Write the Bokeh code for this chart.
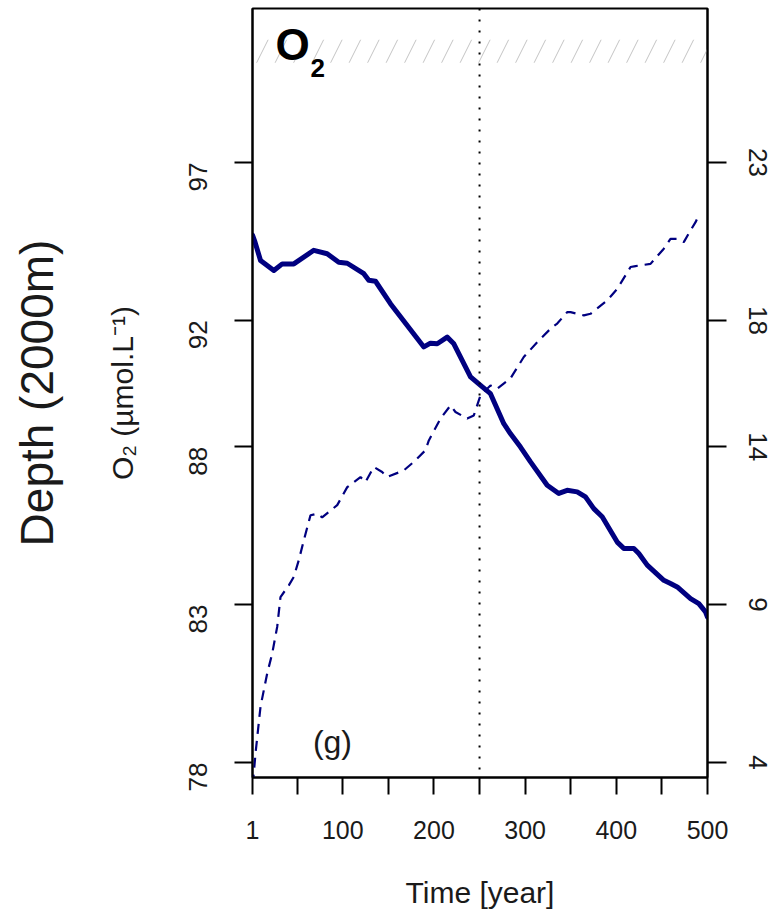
import math
from bokeh.plotting import figure
from bokeh.models import (Range1d, LinearAxis, FixedTicker, Span)
from bokeh.core.properties import value
from bokeh.embed import file_html
from bokeh.resources import INLINE

# ---- data ----
time_solid = [1, 3.2, 9.8, 24.4, 33.6, 46.3, 68.2, 82.9, 95.6, 104.9, 123.1, 128.5, 135.9,
              152.3, 188.9, 196.2, 203.6, 214.5, 221.8, 240.1, 251.1, 262.0, 276.6, 284.0,
              294.9, 305.9, 324.2, 336.9, 346.1, 357.1, 366.2, 375.3, 384.5, 401.0, 408.2,
              419.2, 424.7, 433.9, 452.1, 459.4, 466.8, 481.4, 490.5, 497.8, 500]
o2_solid = [94.70, 94.53, 93.90, 93.58, 93.79, 93.79, 94.22, 94.11, 93.84, 93.81, 93.48, 93.27, 93.24,
            92.53, 91.16, 91.28, 91.26, 91.47, 91.26, 90.21, 89.94, 89.68, 88.73, 88.41,
            87.99, 87.52, 86.78, 86.52, 86.62, 86.57, 86.41, 86.04, 85.78, 84.98, 84.78,
            84.78, 84.62, 84.25, 83.77, 83.67, 83.56, 83.19, 83.03, 82.77, 82.60]

time_dashed = [1, 2.4, 4.3, 9.8, 17.1, 22.6, 28.1, 31.7, 40.8, 46.3, 51.8, 57.3, 64.6, 72.0, 77.4,
               93.9, 104.9, 119.4, 124.9, 134.0, 143.2, 148.7, 166.9, 177.9, 190.7, 194.4,
               207.2, 218.2, 223.6, 236.5, 243.7, 249.2, 251.1, 262.0, 269.4, 283.9, 298.5,
               313.2, 329.7, 335.2, 346.1, 349.8, 364.4, 371.7, 390.0, 401.0, 415.6, 421.1,
               437.5, 452.1, 459.4, 466.8, 474.0, 481.4, 486.9, 490.0]
o2_dashed = [3.30, 3.65, 4.29, 5.77, 6.82, 7.45, 8.30, 9.24, 9.61, 9.88, 10.41, 11.04, 11.83, 11.88, 11.76,
             12.15, 12.72, 13.04, 12.88, 13.36, 13.20, 13.04, 13.25, 13.52, 13.89, 14.20,
             14.89, 15.31, 15.10, 14.89, 14.99, 15.47, 15.63, 15.94, 15.84, 16.16, 16.84,
             17.31, 17.79, 17.90, 18.26, 18.26, 18.16, 18.21, 18.63, 19.00, 19.69, 19.72,
             19.79, 20.27, 20.58, 20.58, 20.48, 20.85, 21.11, 21.30]

x_ticks = [1, 50, 100, 150, 200, 250, 300, 350, 400, 450, 500]
x_tick_labels = {1: "1", 50: "", 100: "100", 150: "", 200: "200", 250: "", 300: "300",
                 350: "", 400: "400", 450: "", 500: "500"}
left_ticks = [78, 83, 88, 92, 97]
right_ticks = [4, 9, 14, 18, 23]
left_range = (77.525, 101.877)
right_range = (3.525, 27.877)
x_range = (1, 500)
marker_year = 250
band = (100.16, 100.89)

FONT = "Liberation Sans"
NAVY = "#000080"
TXT = "#1a1a1a"

p = figure(width=780, height=920,
           output_backend="svg", toolbar_location=None,
           x_range=Range1d(*x_range), y_range=Range1d(*left_range),
           min_border_left=252, min_border_right=73, min_border_top=8, min_border_bottom=143)
p.extra_y_ranges = {"right": Range1d(*right_range)}
p.background_fill_color = "white"
p.border_fill_color = "white"
p.outline_line_color = "black"
p.outline_line_width = 2
p.xgrid.visible = False
p.ygrid.visible = False

def style_axis(ax, tick_out, standoff):
    ax.axis_line_color = "black"
    ax.axis_line_width = 2
    ax.major_tick_line_color = "black"
    ax.major_tick_line_width = 2
    ax.major_tick_in = 0
    ax.major_tick_out = tick_out
    ax.minor_tick_line_color = None
    ax.major_label_text_font = FONT
    ax.major_label_text_font_size = "26px"
    ax.major_label_text_color = TXT
    ax.major_label_standoff = standoff
    ax.axis_label_text_font = FONT
    ax.axis_label_text_font_style = "normal"
    ax.axis_label_text_color = TXT

# bottom axis
xa = p.xaxis[0]
xa.ticker = FixedTicker(ticks=x_ticks)
xa.major_label_overrides = x_tick_labels
style_axis(xa, 17, 26)
xa.major_label_text_font_size = "25px"
xa.axis_label = "Time [year]"
xa.axis_label_text_font_size = "30px"
xa.axis_label_standoff = 34

# left axis
ya = p.yaxis[0]
ya.ticker = FixedTicker(ticks=left_ticks)
style_axis(ya, 18, 36)
ya.major_label_orientation = math.pi / 2
ya.axis_label = "O\u2082 (\u00b5mol.L\u207b\u00b9)"
ya.axis_label_text_font_size = "30px"
ya.axis_label_standoff = 39

# outer left label: a bare axis carrying only its title
depth_axis = LinearAxis(ticker=FixedTicker(ticks=[]), axis_label="Depth (2000m)")
depth_axis.axis_line_color = None
depth_axis.major_tick_line_color = None
depth_axis.minor_tick_line_color = None
depth_axis.major_tick_out = 0
depth_axis.major_label_standoff = 0
depth_axis.axis_label_standoff = 40
depth_axis.axis_label_text_font = FONT
depth_axis.axis_label_text_font_size = "46px"
depth_axis.axis_label_text_font_style = "normal"
depth_axis.axis_label_text_color = TXT
p.add_layout(depth_axis, "left")

# right axis
ra = LinearAxis(y_range_name="right", ticker=FixedTicker(ticks=right_ticks))
style_axis(ra, 19, 22)
ra.major_label_orientation = "vertical"
p.add_layout(ra, "right")

# hatched band
p.quad(left=[x_range[0]], right=[x_range[1]], bottom=[band[0]], top=[band[1]],
       fill_color=None, line_color=None, hatch_pattern="/", hatch_color="#c4c4c4",
       hatch_weight=1, hatch_scale=37)

# dotted vertical marker
p.add_layout(Span(location=marker_year, dimension="height", line_color="black",
                  line_width=2, line_dash="2 9"))

# series
p.line(time_solid, o2_solid, line_color=NAVY, line_width=5, line_join="round", line_cap="round")
p.line(time_dashed, o2_dashed, y_range_name="right", line_color=NAVY, line_width=2.2,
       line_dash="10 7")

# labels
p.text(x=[26.2], y=[100.73], text=["O"], text_font=value(FONT), text_font_size="44px",
       text_font_style="bold", text_color="black", text_baseline="alphabetic", text_align="left")
p.text(x=[64.5], y=[100.0], text=["2"], text_font=value(FONT), text_font_size="26px",
       text_font_style="bold", text_color="black", text_baseline="alphabetic", text_align="left")
p.text(x=[88.7], y=[78.64], text=["(g)"], text_font=value(FONT), text_font_size="32px",
       text_color=TXT, text_baseline="alphabetic", text_align="center")

open("out.html", "w").write(file_html(p, INLINE))
